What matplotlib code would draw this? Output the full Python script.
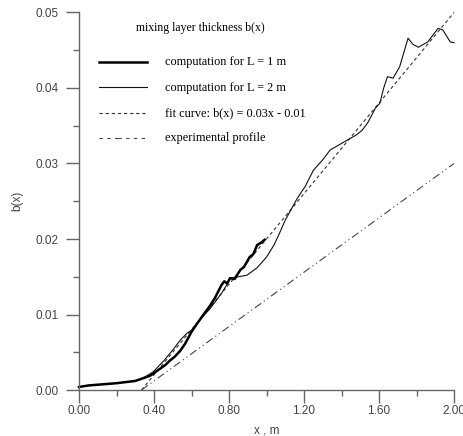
import matplotlib
matplotlib.use("Agg")
import matplotlib.pyplot as plt
from matplotlib.lines import Line2D

# computation for L = 1 m (thick)
x1 = [0, 0.05, 0.1, 0.2, 0.3, 0.336, 0.38, 0.42, 0.46, 0.485, 0.51, 0.54, 0.565, 0.6, 0.63,
      0.67, 0.7, 0.725, 0.76, 0.775, 0.79, 0.805, 0.83, 0.86, 0.88, 0.91, 0.93, 0.95, 0.97, 0.99]
y1 = [0.0004, 0.0006, 0.0007, 0.0009, 0.0012, 0.0015, 0.0019, 0.0026, 0.0033, 0.0039, 0.0044,
      0.0052, 0.0061, 0.0077, 0.0088, 0.0102, 0.0112, 0.0122, 0.0139, 0.0144, 0.0141, 0.0148,
      0.0147, 0.0159, 0.0163, 0.0176, 0.0180, 0.0192, 0.0195, 0.0199]

# computation for L = 2 m (thin)
x2 = [0, 0.05, 0.1, 0.2, 0.3, 0.35, 0.395, 0.45, 0.5, 0.54, 0.575, 0.6, 0.645, 0.7, 0.76,
      0.79, 0.805, 0.85, 0.896, 0.95, 1.0, 1.04, 1.07, 1.1, 1.16, 1.18, 1.205, 1.25, 1.3, 1.34,
      1.41, 1.48, 1.51, 1.54, 1.58, 1.605, 1.625, 1.645, 1.675, 1.71, 1.755, 1.78, 1.81, 1.86,
      1.915, 1.94, 1.98, 2.0]
y2 = [0.0004, 0.0006, 0.0007, 0.0009, 0.0012, 0.0017, 0.0024, 0.0038, 0.0053, 0.0066, 0.0075,
      0.0079, 0.0093, 0.0108, 0.0128, 0.0140, 0.0148, 0.0150, 0.0152, 0.0162, 0.0176, 0.0192,
      0.0208, 0.0225, 0.0252, 0.0260, 0.0269, 0.0291, 0.0305, 0.0318, 0.0328, 0.0338, 0.0344,
      0.0354, 0.0373, 0.0380, 0.0400, 0.0415, 0.0413, 0.0428, 0.0466, 0.0458, 0.0454, 0.0461,
      0.0479, 0.0477, 0.0461, 0.0460]

# fit curve b(x) = 0.03x - 0.01
xfit = [1 / 3, 2.0]
yfit = [0.0, 0.05]

# experimental profile
xexp = [1 / 3, 2.0]
yexp = [0.0, 0.03]

xticks = [0.0, 0.4, 0.8, 1.2, 1.6, 2.0]
xtick_labels = ["0.00", "0.40", "0.80", "1.20", "1.60", "2.00"]
yticks = [0.0, 0.01, 0.02, 0.03, 0.04, 0.05]
ytick_labels = ["0.00", "0.01", "0.02", "0.03", "0.04", "0.05"]

W, H = 463, 436
fig = plt.figure(figsize=(W / 100, H / 100), dpi=100)
ax = fig.add_axes([79 / W, 1 - 390 / H, 375 / W, 377.5 / H])

ax.plot(xfit, yfit, color="#333333", lw=0.8, dashes=(3, 2.5), clip_on=False)
ax.plot(xexp, yexp, color="#444444", lw=0.8, dashes=(7, 3, 1, 3, 1, 3), clip_on=False)
ax.plot(x2, y2, color="#111111", lw=0.8, clip_on=False)
ax.plot(x1, y1, color="black", lw=1.8, clip_on=False)

ax.set_xlim(0, 2.0)
ax.set_ylim(0, 0.05)
for s in ["top", "right"]:
    ax.spines[s].set_visible(False)
for s in ["left", "bottom"]:
    ax.spines[s].set_color("#666666")
    ax.spines[s].set_linewidth(1.0)

ax.set_xticks(xticks)
ax.set_xticklabels(xtick_labels)
ax.set_yticks(yticks)
ax.set_yticklabels(ytick_labels)
ax.set_xticks([0.2, 0.6, 1.0, 1.4, 1.8], minor=True)
ax.set_yticks([0.005, 0.015, 0.025, 0.035, 0.045], minor=True)
ax.tick_params(which="major", length=9.4, width=1.0, color="#666666", direction="out",
               labelsize=8.5, labelcolor="#444444")
ax.tick_params(axis="y", which="major", pad=5)
ax.tick_params(axis="x", which="major", pad=1.5)
ax.tick_params(which="minor", length=4.5, width=1.0, color="#666666", direction="out")
for lab in ax.get_xticklabels() + ax.get_yticklabels():
    lab.set_family("Liberation Sans")

ax.set_xlabel("x , m", family="Liberation Sans", fontsize=8.5, color="#444444", labelpad=5)
ax.set_ylabel("b(x)", family="Liberation Sans", fontsize=8.5, color="#444444", labelpad=9)

# legend drawn by hand
def fx(px):
    return px / W

def fy(py):
    return 1 - py / H

fig.text(fx(136), fy(28), "mixing layer thickness b(x)", family="Liberation Serif",
         fontsize=8.5, va="center", ha="left")
entries = [
    ("computation for L = 1 m", dict(color="black", lw=1.8)),
    ("computation for L = 2 m", dict(color="#111111", lw=0.8)),
    ("fit curve: b(x) = 0.03x - 0.01", dict(color="#333333", lw=0.8, dashes=(3, 2.5))),
    ("experimental profile", dict(color="#444444", lw=0.8, dashes=(3, 4, 3, 4, 6, 4, 3, 4, 3, 4))),
]
for i, (label, style) in enumerate(entries):
    py = 62 + i * 25.5
    fig.add_artist(Line2D([fx(99), fx(147)], [fy(py), fy(py)], **style))
    fig.text(fx(165), fy(py), label, family="Liberation Serif", fontsize=8.8,
             va="center", ha="left")

fig.savefig("out.png", dpi=100)
